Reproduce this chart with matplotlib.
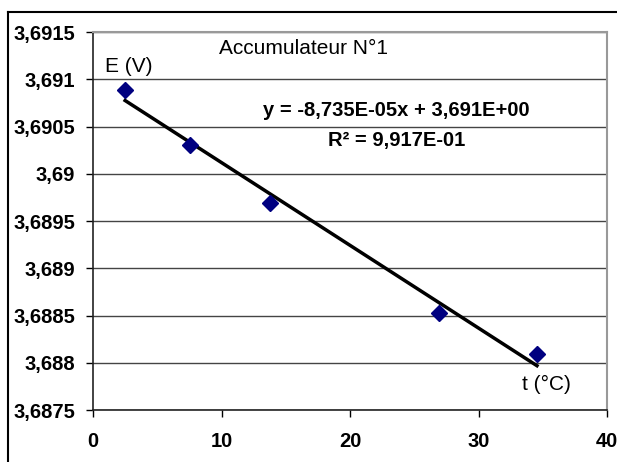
import numpy as np
import matplotlib.pyplot as plt
from matplotlib.ticker import MultipleLocator, FuncFormatter
from matplotlib.lines import Line2D

plt.rcParams['font.family'] = ['Liberation Sans', 'DejaVu Sans']

temp = [2.5, 7.55, 13.8, 26.9, 34.55]
tension = [3.69089, 3.6903, 3.68969, 3.68853, 3.68809]

# droite de tendance
a, b = np.polyfit(temp, tension, 1)
xt = np.array([min(temp), max(temp)])

fig = plt.figure(figsize=(6.17, 4.62), dpi=100)
ax = fig.add_axes([93/617, 1 - 410/462, (607-93)/617, (410-32)/462])

# cadre exterieur (coupe a droite et en bas)
fig.add_artist(Line2D([8/617, 1.0], [1 - 12/462, 1 - 12/462], color='black', lw=1.5))
fig.add_artist(Line2D([8/617, 8/617], [0, 1 - 12/462], color='black', lw=1.5))

ax.plot(xt, a*xt + b, color='black', lw=2.5, zorder=2)
ax.plot(temp, tension, 'D', color='#000080', ms=8.5, zorder=3)

ax.set_xlim(0, 40)
ax.set_ylim(3.6875, 3.6915)
ax.xaxis.set_major_locator(MultipleLocator(10))
ax.yaxis.set_major_locator(MultipleLocator(0.0005))
ax.yaxis.set_major_formatter(FuncFormatter(lambda v, p: ('%g' % v).replace('.', ',')))
ax.grid(axis='y', color='#444444', lw=1)
ax.set_axisbelow(True)

for s in ['top', 'right']:
    ax.spines[s].set_color('#999999')
    ax.spines[s].set_linewidth(1.5)
for s in ['left', 'bottom']:
    ax.spines[s].set_color('#222222')
    ax.spines[s].set_linewidth(1.2)

ax.tick_params(direction='out', length=5, width=1, labelsize=14.5)
for lab in ax.get_xticklabels() + ax.get_yticklabels():
    lab.set_fontweight('bold')
ax.tick_params(axis='x', pad=11)
ax.tick_params(axis='y', pad=8)

ax.text(16.4, 3.69133, 'Accumulateur N°1', fontsize=15, ha='center', va='center')
ax.text(0.9, 3.69113, 'E (V)', fontsize=15, ha='left', va='center')
ax.text(33.4, 3.68777, 't (°C)', fontsize=15, ha='left', va='center')
ax.text(23.6, 3.69067, 'y = -8,735E-05x + 3,691E+00', fontsize=14.5,
        fontweight='bold', ha='center', va='center')
ax.text(23.6, 3.69035, 'R² = 9,917E-01', fontsize=14.5,
        fontweight='bold', ha='center', va='center')

fig.savefig('out.png', dpi=100)
